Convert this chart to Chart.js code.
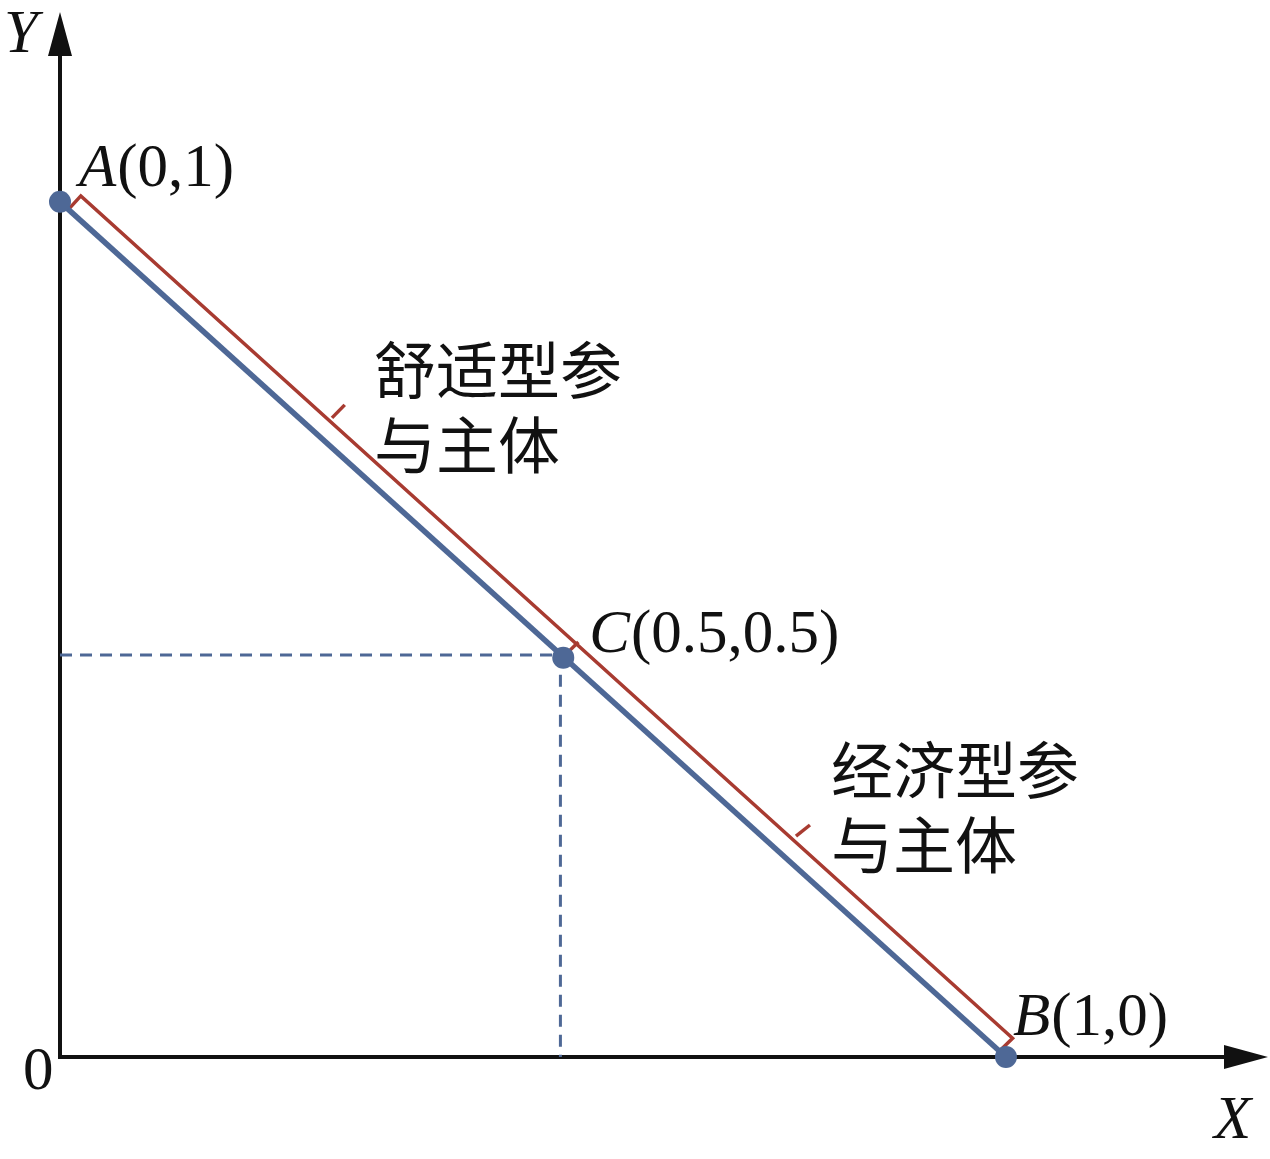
<!DOCTYPE html>
<html>
<head>
<meta charset="utf-8">
<script src="https://cdn.jsdelivr.net/npm/chart.js@4.4.1/dist/chart.umd.min.js"></script>
<style>
  body { margin: 0; background: #fff; }
  #wrap { width: 1270px; height: 1159px; position: relative; }
</style>
</head>
<body>
<div id="wrap"><canvas id="lineChart"></canvas></div>
<script>
// points on the line and their labels
const pointNames = ['A', 'B', 'C'];
const pointLabels = ['(0,1)', '(1,0)', '(0.5,0.5)'];
const pointX = [0, 1, 0.532];
const pointY = [1, 0, 0.467];

// the blue line A -> B
const lineX = [0, 1];
const lineY = [1, 0];

// red bracket beside the line
const bracketX = [0.0085, 0.022, 1.007, 0.994];
const bracketY = [0.9906, 1.007, 0.022, 0.008];

// small red ticks on the bracket
const tickX = [[0.2875, 0.301], [0.539, 0.548], [0.778, 0.7928]];
const tickY = [[0.7474, 0.7626], [0.4755, 0.4853], [0.2582, 0.2713]];

// dashed guides to C
const guideX = [0, 0.529, 0.529];
const guideY = [0.47, 0.47, 0];

// the two groups of participants
const groupLabels = [['舒适型参', '与主体'], ['经济型参', '与主体']];

const blue = '#4e6896';
const red = '#a83b31';
const serif = '"Liberation Serif", "DejaVu Serif", serif';

let toXY = function (xs, ys) {
  return xs.map((x, i) => ({ x: x, y: ys[i] }));
};

let datasets = [
  { data: toXY(pointX, pointY), showLine: false, pointRadius: 11, pointHoverRadius: 11,
    backgroundColor: blue, borderColor: blue, borderWidth: 0, order: 0 },
  { data: toXY(lineX, lineY), showLine: true, pointRadius: 0, borderColor: blue, borderWidth: 5.5, order: 2 },
  { data: toXY(bracketX, bracketY), showLine: true, pointRadius: 0, borderColor: red, borderWidth: 3.5, order: 3 },
  { data: toXY(guideX, guideY), showLine: true, pointRadius: 0, borderColor: blue, borderWidth: 3,
    borderDash: [12, 8], order: 4 },
];
for (let i = 0; i < tickX.length; i++) {
  datasets.push({ data: toXY(tickX[i], tickY[i]), showLine: true, pointRadius: 0,
    borderColor: red, borderWidth: 3.5, order: 3 });
}

// axes with arrows and all the labels
const drawPlugin = {
  id: 'drawPlugin',
  beforeDatasetsDraw(chart) {
    const ctx = chart.ctx;
    const xs = chart.scales.x, ys = chart.scales.y;
    const x0 = xs.getPixelForValue(0), y0 = ys.getPixelForValue(0);
    const top = chart.chartArea.top, right = chart.chartArea.right;
    ctx.save();
    ctx.strokeStyle = '#111';
    ctx.fillStyle = '#111';
    ctx.lineWidth = 4;
    ctx.beginPath();
    ctx.moveTo(x0, top + 30);
    ctx.lineTo(x0, y0);
    ctx.lineTo(right - 30, y0);
    ctx.stroke();
    ctx.beginPath();
    ctx.moveTo(x0, top);
    ctx.lineTo(x0 - 12, top + 44);
    ctx.lineTo(x0 + 12, top + 44);
    ctx.closePath();
    ctx.fill();
    ctx.beginPath();
    ctx.moveTo(right, y0);
    ctx.lineTo(right - 44, y0 - 12);
    ctx.lineTo(right - 44, y0 + 12);
    ctx.closePath();
    ctx.fill();
    ctx.restore();
  },
  afterDraw(chart) {
    const ctx = chart.ctx;
    const xs = chart.scales.x, ys = chart.scales.y;
    const x0 = xs.getPixelForValue(0), y0 = ys.getPixelForValue(0);
    ctx.save();
    ctx.fillStyle = '#111';
    ctx.textBaseline = 'alphabetic';
    // point labels: italic letter then upright coordinates
    const offsets = [[19, -16], [7, -22], [26, -6]];
    for (let i = 0; i < pointNames.length; i++) {
      let px = xs.getPixelForValue(pointX[i]) + offsets[i][0];
      let py = ys.getPixelForValue(pointY[i]) + offsets[i][1];
      ctx.font = 'italic 61px ' + serif;
      ctx.fillText(pointNames[i], px, py);
      px += ctx.measureText(pointNames[i]).width + 1;
      ctx.font = '61px ' + serif;
      ctx.fillText(pointLabels[i], px, py);
    }
    // origin and axis names
    ctx.font = '61px ' + serif;
    ctx.fillText('0', x0 - 37, y0 + 32);
    ctx.font = 'italic 61px ' + serif;
    ctx.fillText('Y', x0 - 56, chart.chartArea.top + 40);
    ctx.fillText('X', chart.chartArea.right - 54, y0 + 81);
    // group labels
    ctx.font = '62px "Noto Sans CJK SC", sans-serif';
    ctx.textBaseline = 'middle';
    const groupPos = [[374, 370], [831, 770]];
    for (let g = 0; g < groupLabels.length; g++) {
      for (let l = 0; l < groupLabels[g].length; l++) {
        ctx.fillText(groupLabels[g][l], groupPos[g][0], groupPos[g][1] + l * 75);
      }
    }
    ctx.restore();
  }
};

new Chart(document.getElementById('lineChart'), {
  type: 'scatter',
  data: { datasets: datasets },
  options: {
    responsive: true,
    maintainAspectRatio: false,
    animation: false,
    clip: false,
    layout: { autoPadding: false, padding: { left: 60, right: 2, top: 12, bottom: 102 } },
    plugins: { legend: { display: false }, tooltip: { enabled: false } },
    scales: {
      x: { type: 'linear', min: 0, max: 1.277, display: false },
      y: { type: 'linear', min: 0, max: 1.222, display: false }
    }
  },
  plugins: [drawPlugin]
});
</script>
</body>
</html>
